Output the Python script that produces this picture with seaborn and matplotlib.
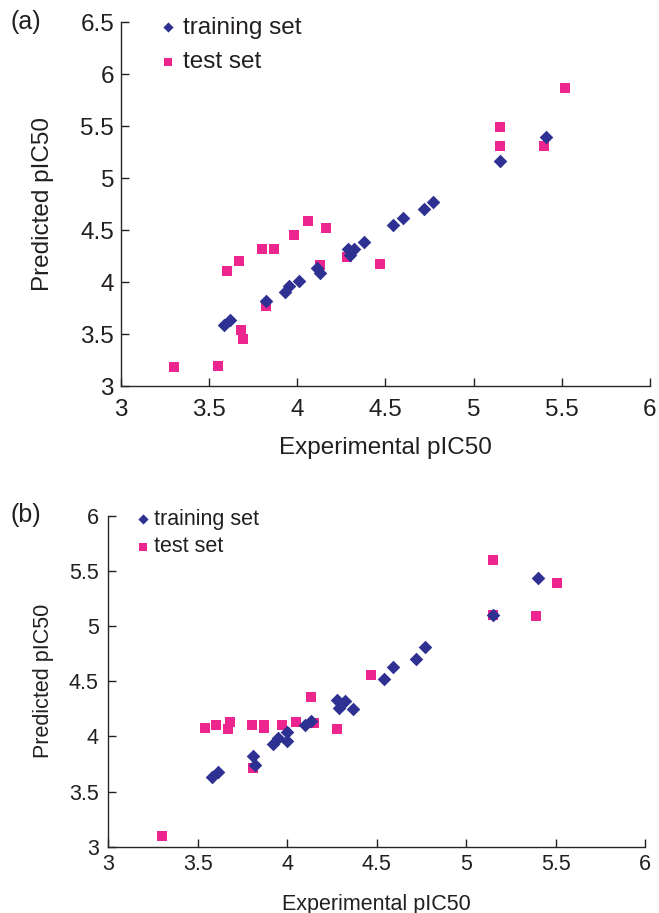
import numpy as np
import pandas as pd
import matplotlib
matplotlib.use("Agg")
import matplotlib.pyplot as plt
import seaborn as sns

# ---------------------------------------------------------
# data
# ---------------------------------------------------------
# panel (a)
train_a_exp = [3.585, 3.62, 3.82, 3.93, 3.95, 4.01, 4.11, 4.13, 4.29, 4.30,
               4.32, 4.38, 4.54, 4.60, 4.72, 4.77, 5.15, 5.41]
train_a_pred = [3.59, 3.63, 3.82, 3.90, 3.96, 4.01, 4.13, 4.09, 4.32, 4.26,
                4.32, 4.38, 4.55, 4.62, 4.70, 4.77, 5.16, 5.39]
test_a_exp = [3.30, 3.55, 3.60, 3.67, 3.68, 3.69, 3.80, 3.87, 3.82, 3.98,
              4.06, 4.16, 4.13, 4.28, 4.47, 5.15, 5.15, 5.40, 5.52]
test_a_pred = [3.18, 3.19, 4.11, 4.20, 3.54, 3.45, 4.32, 4.32, 3.77, 4.45,
               4.59, 4.52, 4.16, 4.24, 4.17, 5.49, 5.31, 5.31, 5.87]

# panel (b)
train_b_exp = [3.58, 3.61, 3.81, 3.82, 3.92, 3.95, 4.00, 4.00, 4.10, 4.13,
               4.28, 4.29, 4.32, 4.37, 4.54, 4.59, 4.72, 4.77, 5.15, 5.40]
train_b_pred = [3.63, 3.68, 3.82, 3.74, 3.93, 3.99, 4.04, 3.96, 4.10, 4.14,
                4.33, 4.26, 4.32, 4.25, 4.52, 4.63, 4.70, 4.81, 5.10, 5.44]
test_b_exp = [3.30, 3.54, 3.60, 3.67, 3.68, 3.80, 3.87, 3.87, 3.81, 3.97,
              4.05, 4.13, 4.15, 4.28, 4.47, 5.15, 5.15, 5.39, 5.51]
test_b_pred = [3.10, 4.08, 4.10, 4.07, 4.13, 4.10, 4.08, 4.10, 3.71, 4.10,
               4.13, 4.36, 4.12, 4.07, 4.56, 5.60, 5.10, 5.09, 5.39]

x_ticks = [3, 3.5, 4, 4.5, 5, 5.5, 6]
y_ticks_a = [3, 3.5, 4, 4.5, 5, 5.5, 6, 6.5]
y_ticks_b = [3, 3.5, 4, 4.5, 5, 5.5, 6]

BLUE = "#2e3192"
PINK = "#ec258f"
INK = "#231f20"

sns.set_theme(style="ticks")
plt.rcParams["font.family"] = ["Liberation Sans", "DejaVu Sans"]
plt.rcParams["axes.linewidth"] = 1.0

fig = plt.figure(figsize=(6.59, 9.13), dpi=100)
ax_a = fig.add_axes([0.1836, 0.5772, 0.8027, 0.3987])
ax_b = fig.add_axes([0.1646, 0.0726, 0.8141, 0.3622])


def panel(ax, tr_x, tr_y, te_x, te_y, ylim, yticks, fs, xpad, ypad,
          ylab_x, xlab_y, leg_anchor, hlen, htpad, lspace):
    sns.scatterplot(x=tr_x, y=tr_y, ax=ax, marker="D", s=48, color=BLUE,
                    linewidth=0, label="training set", zorder=3)
    sns.scatterplot(x=te_x, y=te_y, ax=ax, marker="s", s=58, color=PINK,
                    linewidth=0, label="test set", zorder=2)
    ax.set_xlim(3, 6)
    ax.set_ylim(*ylim)
    ax.set_xticks(x_ticks)
    ax.set_xticklabels([f"{t:g}" for t in x_ticks])
    ax.set_yticks(yticks)
    ax.set_yticklabels([f"{t:g}" for t in yticks])
    ax.tick_params(direction="in", length=6, width=1, labelsize=fs,
                   colors=INK)
    ax.tick_params(axis="x", pad=xpad)
    ax.tick_params(axis="y", pad=ypad)
    ax.set_xlabel("Experimental pIC50", fontsize=fs, color=INK)
    ax.set_ylabel("Predicted pIC50", fontsize=fs, color=INK)
    ax.yaxis.set_label_coords(ylab_x, 0.5)
    ax.xaxis.set_label_coords(0.5, xlab_y)
    sns.despine(ax=ax)
    leg = ax.legend(loc="upper left", bbox_to_anchor=leg_anchor, frameon=False,
                    fontsize=fs, handlelength=hlen, handletextpad=htpad,
                    markerscale=0.75, labelspacing=lspace, borderaxespad=0)
    for t in leg.get_texts():
        t.set_color(INK)


panel(ax_a, train_a_exp, train_a_pred, test_a_exp, test_a_pred,
      (3, 6.5), y_ticks_a, 17.5, 9, 5, -0.126, -0.14,
      (0.052, 1.041), 0.8, 0.24, 0.5)
panel(ax_b, train_b_exp, train_b_pred, test_b_exp, test_b_pred,
      (3, 6), y_ticks_b, 15.5, 5, 7, -0.102, -0.142,
      (0.034, 1.048), 0.7, 0.19, 0.3)

fig.text(10 / 659, 1 - 22 / 913, "(a)", fontsize=18, color=INK, va="center")
fig.text(10 / 659, 1 - 515 / 913, "(b)", fontsize=18, color=INK, va="center")

fig.savefig("out.png", dpi=100)
